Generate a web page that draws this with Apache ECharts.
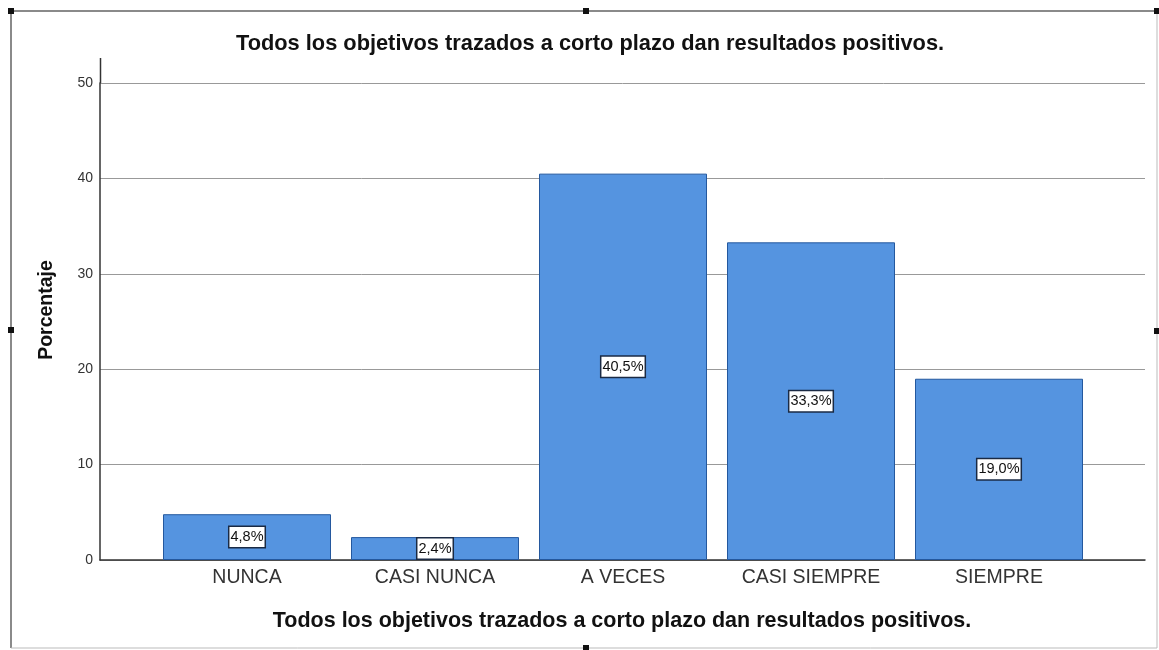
<!DOCTYPE html>
<html lang="es">
<head>
    <meta charset="utf-8">
    <title>Porcentaje</title>
    <script src="https://cdn.jsdelivr.net/npm/echarts@6/dist/echarts.min.js"></script>
    <style>
        html, body { margin: 0; padding: 0; background: #fff; }
        #main { width: 1159px; height: 650px; }
    </style>
</head>
<body>
<div id="main"></div>
<script type="text/javascript">
    // datos
    var categorias = ['NUNCA', 'CASI NUNCA', 'A VECES', 'CASI SIEMPRE', 'SIEMPRE'];
    var porcentajes = [4.8, 2.4, 40.5, 33.3, 19.0];
    var ticksY = [0, 10, 20, 30, 40, 50];
    var titulo = 'Todos los objetivos trazados a corto plazo dan resultados positivos.';

    var myChart = echarts.init(document.getElementById('main'));

    var fuente = 'Liberation Sans, Arial, sans-serif';
    // marco y asas del gráfico
    var marco = '#8a8a8a';
    function asa(x, y) {
        return {type: 'rect', shape: {x: x - 3, y: y - 3, width: 6, height: 6}, style: {fill: '#111'}, z: 10};
    }

    var option = {
        backgroundColor: '#fff',
        animation: false,
        textStyle: {fontFamily: fuente},
        graphic: [
            {type: 'line', shape: {x1: 11, y1: 11, x2: 1157, y2: 11}, style: {stroke: marco, lineWidth: 2}},
            {type: 'line', shape: {x1: 11, y1: 11, x2: 11, y2: 648}, style: {stroke: marco, lineWidth: 2}},
            {type: 'line', shape: {x1: 1157, y1: 11, x2: 1157, y2: 648}, style: {stroke: '#bbb', lineWidth: 1}},
            {type: 'line', shape: {x1: 11, y1: 648, x2: 1157, y2: 648}, style: {stroke: '#bbb', lineWidth: 1}},
            asa(11, 11), asa(586, 11), asa(1157, 11), asa(11, 330), asa(1157, 331), asa(586, 648),
            // prolongación del eje Y por encima de 50
            {type: 'line', shape: {x1: 100.5, y1: 58, x2: 100.5, y2: 83}, style: {stroke: '#333', lineWidth: 1.5}},
            {
                type: 'text', x: 590, y: 44,
                style: {text: titulo, font: 'bold 21.8px ' + fuente, fill: '#111',
                    textAlign: 'center', textVerticalAlign: 'middle'}
            },
            {
                type: 'text', x: 47, y: 310, rotation: Math.PI / 2,
                style: {text: 'Porcentaje', font: 'bold 19.5px ' + fuente, fill: '#111',
                    textAlign: 'center', textVerticalAlign: 'middle'}
            },
            {
                type: 'text', x: 622, y: 621,
                style: {text: titulo, font: 'bold 21.5px ' + fuente, fill: '#111',
                    textAlign: 'center', textVerticalAlign: 'middle'}
            }
        ],
        grid: [
            {left: 100, right: 14, top: 83, bottom: 90},
            {left: 153, right: 66, top: 83, bottom: 90}
        ],
        xAxis: [
            {
                type: 'value', gridIndex: 0, min: 0, max: 1,
                axisLine: {show: true, onZero: false, lineStyle: {color: '#333', width: 1.5}},
                axisTick: {show: false}, axisLabel: {show: false}, splitLine: {show: false}
            },
            {
                type: 'category', gridIndex: 1, data: categorias,
                axisLine: {show: false}, axisTick: {show: false},
                axisLabel: {margin: 8, fontSize: 19.5, color: '#333'}
            }
        ],
        yAxis: [
            {
                type: 'value', gridIndex: 0, min: ticksY[0], max: ticksY[ticksY.length - 1], interval: 10,
                axisLine: {show: true, lineStyle: {color: '#333', width: 1.5}},
                axisTick: {show: false},
                axisLabel: {fontSize: 14, color: '#333', margin: 7},
                splitLine: {show: true, lineStyle: {color: '#999', width: 1}}
            },
            {
                type: 'value', gridIndex: 1, min: 0, max: 50, show: false
            }
        ],
        series: [
            {
                type: 'bar',
                xAxisIndex: 1,
                yAxisIndex: 1,
                data: porcentajes,
                barWidth: 168,
                itemStyle: {color: '#5594e0', borderColor: '#24589e', borderWidth: 1},
                label: {
                    show: true,
                    position: 'inside',
                    formatter: function (p) {
                        return p.value.toFixed(1).replace('.', ',') + '%';
                    },
                    fontSize: 14.5,
                    color: '#111',
                    backgroundColor: '#fff',
                    borderColor: '#1a2a44',
                    borderWidth: 1.5,
                    padding: [3, 1, 2, 1]
                }
            }
        ]
    };

    myChart.setOption(option);
</script>
</body>
</html>
